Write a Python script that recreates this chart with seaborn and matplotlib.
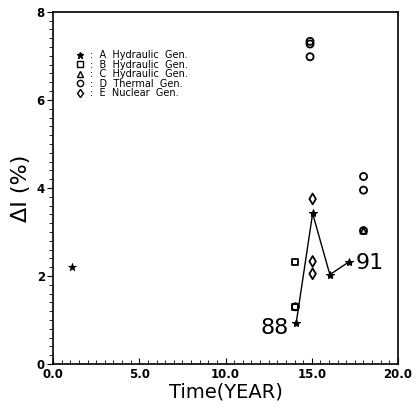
import matplotlib
matplotlib.use("Agg")
import matplotlib.pyplot as plt
from matplotlib.ticker import MultipleLocator
from matplotlib.lines import Line2D
import seaborn as sns
import pandas as pd

# Datos (año, ΔI %)
a_year = [1.1]
a_val = [2.2]
a_line_year = [14.1, 15.05, 16.05, 17.15]
a_line_val = [0.94, 3.42, 2.03, 2.32]
b_year = [14.05, 14.05]
b_val = [2.32, 1.3]
c_year = [18.0]
c_val = [3.03]
d_year = [14.9, 14.9, 14.9, 18.0, 18.0, 18.0, 14.05]
d_val = [7.33, 7.27, 6.98, 4.26, 3.95, 3.03, 1.3]
e_year = [15.05, 15.05, 15.05]
e_val = [3.75, 2.33, 2.05]

legend_labels = [":  A  Hydraulic  Gen.", ":  B  Hydraulic  Gen.", ":  C  Hydraulic  Gen.",
                 ":  D  Thermal  Gen.", ":  E  Nuclear  Gen."]
x_ticks = [0.0, 5.0, 10.0, 15.0, 20.0]
y_ticks = [0, 2, 4, 6, 8]

sns.set_style("ticks")
plt.rcParams['font.family'] = ['DejaVu Sans']
plt.rcParams.update({'text.color': 'black', 'axes.labelcolor': 'black',
                     'xtick.color': 'black', 'ytick.color': 'black'})

fig = plt.figure(figsize=(4.15, 4.09), dpi=100)
ax = fig.add_axes([0.128, 0.110, 0.831, 0.861])

line_df = pd.DataFrame({'year': a_line_year, 'val': a_line_val})
sns.lineplot(data=line_df, x='year', y='val', color='black', linewidth=1.0,
             marker='*', markersize=6, markeredgecolor='black', ax=ax)
sns.scatterplot(x=a_year, y=a_val, marker='*', s=35, color='black',
                edgecolor='black', ax=ax)

open_kw = dict(facecolor='none', edgecolor='black', linewidth=1.3, ax=ax)
sns.scatterplot(x=b_year, y=b_val, marker='s', s=20, **open_kw)
sns.scatterplot(x=c_year, y=c_val, marker='^', s=20, **open_kw)
sns.scatterplot(x=d_year, y=d_val, marker='o', s=26, **open_kw)
sns.scatterplot(x=e_year, y=e_val, marker='d', s=30, **open_kw)

ax.set_xlim(0, 20)
ax.set_ylim(0, 8)
ax.set_xticks(x_ticks)
ax.set_xticklabels([f"{v:.1f}" for v in x_ticks], fontweight='bold', fontsize=8.5)
ax.set_yticks(y_ticks)
ax.set_yticklabels([str(v) for v in y_ticks], fontweight='bold', fontsize=8.5)
ax.xaxis.set_minor_locator(MultipleLocator(0.5))
ax.yaxis.set_minor_locator(MultipleLocator(0.2))
ax.tick_params(axis='x', which='both', direction='in', length=3, pad=3)
ax.tick_params(axis='y', which='both', direction='out', length=3, pad=2)
ax.tick_params(which='major', length=4)
for sp in ax.spines.values():
    sp.set_visible(True)
    sp.set_linewidth(1.2)
    sp.set_color('black')

ax.set_xlabel("Time(YEAR)", fontsize=14, labelpad=1)
ax.set_ylabel("ΔI (%)", fontsize=16, labelpad=4)

narrow = ['Liberation Sans Narrow', 'DejaVu Sans']
ax.text(13.65, 0.82, "88", fontsize=16, ha='right', va='center', family=narrow)
ax.text(17.55, 2.3, "91", fontsize=16, ha='left', va='center', family=narrow)

# Leyenda manual
handles = [
    Line2D([], [], marker='*', linestyle='none', color='black', markersize=5),
    Line2D([], [], marker='s', linestyle='none', markerfacecolor='none', markeredgecolor='black', markersize=4),
    Line2D([], [], marker='^', linestyle='none', markerfacecolor='none', markeredgecolor='black', markersize=4),
    Line2D([], [], marker='o', linestyle='none', markerfacecolor='none', markeredgecolor='black', markersize=4.5),
    Line2D([], [], marker='d', linestyle='none', markerfacecolor='none', markeredgecolor='black', markersize=4.5),
]
ax.legend(handles, legend_labels, loc='upper left', bbox_to_anchor=(0.05, 0.905),
          frameon=False, fontsize=7, handlelength=1.0, handletextpad=0.5,
          labelspacing=-0.05, borderpad=0)

fig.savefig("out.png", dpi=100)
